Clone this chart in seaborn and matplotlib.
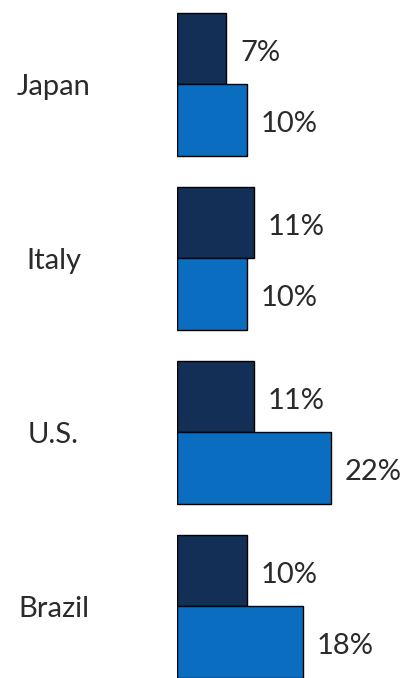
import matplotlib
matplotlib.use("Agg")
import matplotlib.pyplot as plt
import seaborn as sns
import pandas as pd

countries = ["Japan", "Italy", "U.S.", "Brazil"]
series_names = ["Series A", "Series B"]
series_a = [7, 11, 11, 10]
series_b = [10, 10, 22, 18]
colors = ["#132F55", "#0A6DBF"]

df = pd.DataFrame({
    "country": countries * 2,
    "series": [series_names[0]] * 4 + [series_names[1]] * 4,
    "value": series_a + series_b,
})

sns.set_theme(style="white")
plt.rcParams["font.family"] = ["Lato", "DejaVu Sans"]

fig = plt.figure(figsize=(4.06, 6.78), dpi=100)
ax = fig.add_axes([177 / 406, 0, 229 / 406, 1])

sns.barplot(
    data=df, x="value", y="country", hue="series", order=countries,
    hue_order=series_names, palette=colors, saturation=1, orient="h",
    width=0.82, edgecolor="black", linewidth=1.0, legend=False, ax=ax,
)

for cont in ax.containers:
    texts = ax.bar_label(cont, labels=[f"{v:.0f}%" for v in cont.datavalues],
                         padding=10, fontsize=21, color="#2a2a2a")
    for t in texts:
        # nudge the value labels slightly below the bar's centre line
        t.xyann = (10, -3)

ax.set_xlim(0, 229 / 7)
ax.set_ylim(3.411, -0.4856)
ax.set_xlabel("")
ax.set_ylabel("")
ax.set_xticks([])
ax.tick_params(axis="y", length=0, pad=89, labelsize=21, labelcolor="#2a2a2a")
for lbl in ax.get_yticklabels():
    lbl.set_horizontalalignment("center")
for s in ax.spines.values():
    s.set_visible(False)

fig.savefig("out.png", dpi=100)
